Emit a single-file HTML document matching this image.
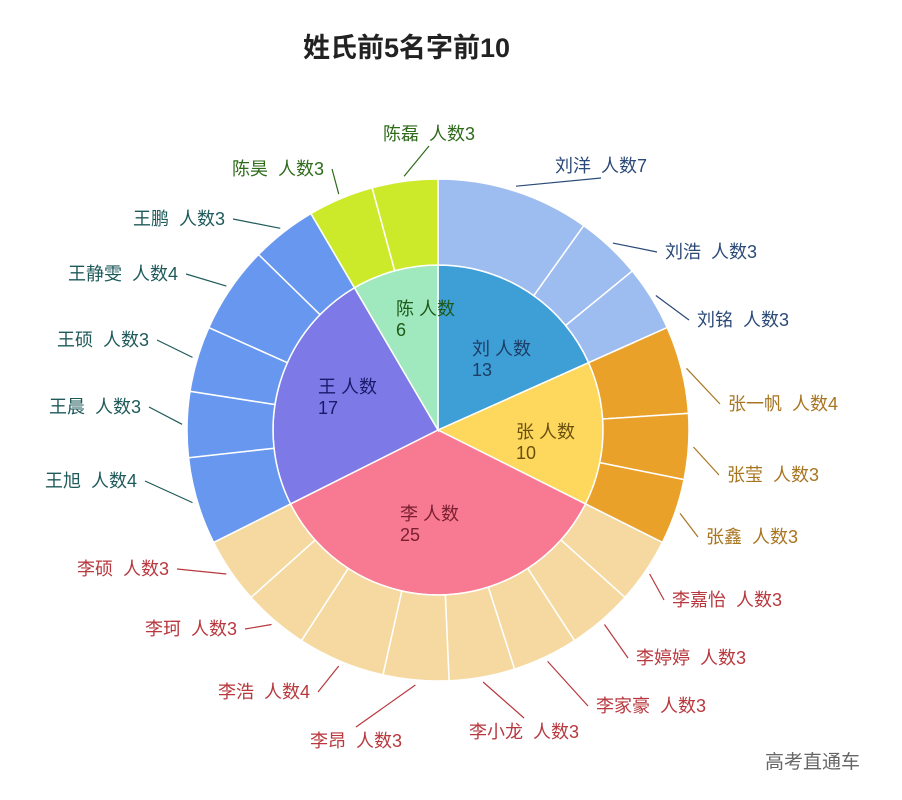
<!DOCTYPE html>
<html><head><meta charset="utf-8">
<style>
html,body{margin:0;padding:0;background:#fff;}
svg{display:block;font-family:"Liberation Sans","Noto Sans CJK SC",sans-serif;}
</style></head>
<body>
<svg id="s" width="902" height="800" viewBox="0 0 902 800">
<text x="303" y="57" font-size="27" font-weight="bold" fill="#222">姓氏前5名字前10</text>
<text x="765" y="768" font-size="19" fill="#666">高考直通车</text>
</svg>
<script>
const s=document.getElementById('s');const NS='http://www.w3.org/2000/svg';
const cx=438,cy=430,r0=165,r1=251;
function pt(r,a){a=a*Math.PI/180;return [cx+r*Math.sin(a),cy-r*Math.cos(a)];}
function arc(ri,ro,a0,a1,fill){
 const p=document.createElementNS(NS,'path');const lg=(a1-a0)>180?1:0;
 const A=pt(ro,a0),B=pt(ro,a1),C=pt(ri,a1),D=pt(ri,a0);
 let d;
 if(ri===0)d=`M${cx},${cy}L${A}A${ro},${ro} 0 ${lg} 1 ${B}Z`;
 else d=`M${A}A${ro},${ro} 0 ${lg} 1 ${B}L${C}A${ri},${ri} 0 ${lg} 0 ${D}Z`;
 p.setAttribute('d',d);p.setAttribute('fill',fill);p.setAttribute('stroke','#fff');p.setAttribute('stroke-width','1.5');s.appendChild(p);
}
const T=71;
const groups=[
 {n:'刘',v:13,ci:'#3d9fd6',co:'#9dbcf0',tc:'#2b4a78',ic:'#1d3d66',kids:[['刘洋',7],['刘浩',3],['刘铭',3]]},
 {n:'张',v:10,ci:'#fdd85c',co:'#e9a12a',tc:'#a87520',ic:'#6a5010',kids:[['张一帆',4],['张莹',3],['张鑫',3]]},
 {n:'李',v:25,ci:'#f87a92',co:'#f5d9a0',tc:'#b8383e',ic:'#7a2030',kids:[['李嘉怡',3],['李婷婷',3],['李家豪',3],['李小龙',3],['李昂',3],['李浩',4],['李珂',3],['李硕',3]]},
 {n:'王',v:17,ci:'#7d79e6',co:'#6797ee',tc:'#1e5a5a',ic:'#1a1a6a',kids:[['王旭',4],['王晨',3],['王硕',3],['王静雯',4],['王鹏',3]]},
 {n:'陈',v:6,ci:'#a0e8bd',co:'#cdea2a',tc:'#2e6b1a',ic:'#1e5a1a',kids:[['陈昊',3],['陈磊',3]]}
];
const pos={'陈磊':[383,140],'陈昊':[232,175],'刘洋':[555,172],'王鹏':[133,225],'刘浩':[665,258],'王静雯':[68,280],'刘铭':[697,326],'王硕':[57,346],'王晨':[49,413],'张一帆':[728,410],'王旭':[45,487],'张莹':[727,481],'张鑫':[706,543],'李硕':[77,575],'李嘉怡':[672,606],'李珂':[145,635],'李婷婷':[636,664],'李浩':[218,698],'李家豪':[596,712],'李昂':[310,747],'李小龙':[469,738]};
const inner={'刘':[472,355],'张':[516,438],'李':[400,520],'王':[318,393],'陈':[396,315]};
function txt(x,y,t,c,fs){const e=document.createElementNS(NS,'text');e.setAttribute('x',x);e.setAttribute('y',y);e.setAttribute('fill',c);e.setAttribute('font-size',fs||18);e.textContent=t;s.appendChild(e);return e;}
function line(a,b,c){const l=document.createElementNS(NS,'line');l.setAttribute('x1',a[0]);l.setAttribute('y1',a[1]);l.setAttribute('x2',b[0]);l.setAttribute('y2',b[1]);l.setAttribute('stroke',c);l.setAttribute('stroke-width','1.2');s.appendChild(l);}
let a=0;
groups.forEach(g=>{
 const ga=g.v/T*360;arc(0,r0,a,a+ga,g.ci);
 let b=a;
 g.kids.forEach(k=>{const ka=k[1]/T*360;arc(r0,r1,b,b+ka,g.co);
  const m=b+ka/2;
  const p=pos[k[0]];const e=txt(p[0],p[1],k[0]+'\u00a0\u00a0人数'+k[1],g.tc);
  const w=e.getComputedTextLength();
  const st=pt(r1+5,m);let end;
  if(Math.abs(Math.sin(m*Math.PI/180))<0.35){ // top/bottom: point to label center
    end=[p[0]+w/2, st[1]<cy ? p[1]+6 : p[1]-20];
  } else if(st[0]>cx){ end=[p[0]-8,p[1]-6]; }
  else { end=[p[0]+w+8,p[1]-6]; }
  line(st,end,g.tc);
  b+=ka;});
 const ip=inner[g.n];txt(ip[0],ip[1],g.n+' 人数',g.ic);txt(ip[0],ip[1]+21,String(g.v),g.ic);
 a+=ga;
});
</script>
</body></html>
